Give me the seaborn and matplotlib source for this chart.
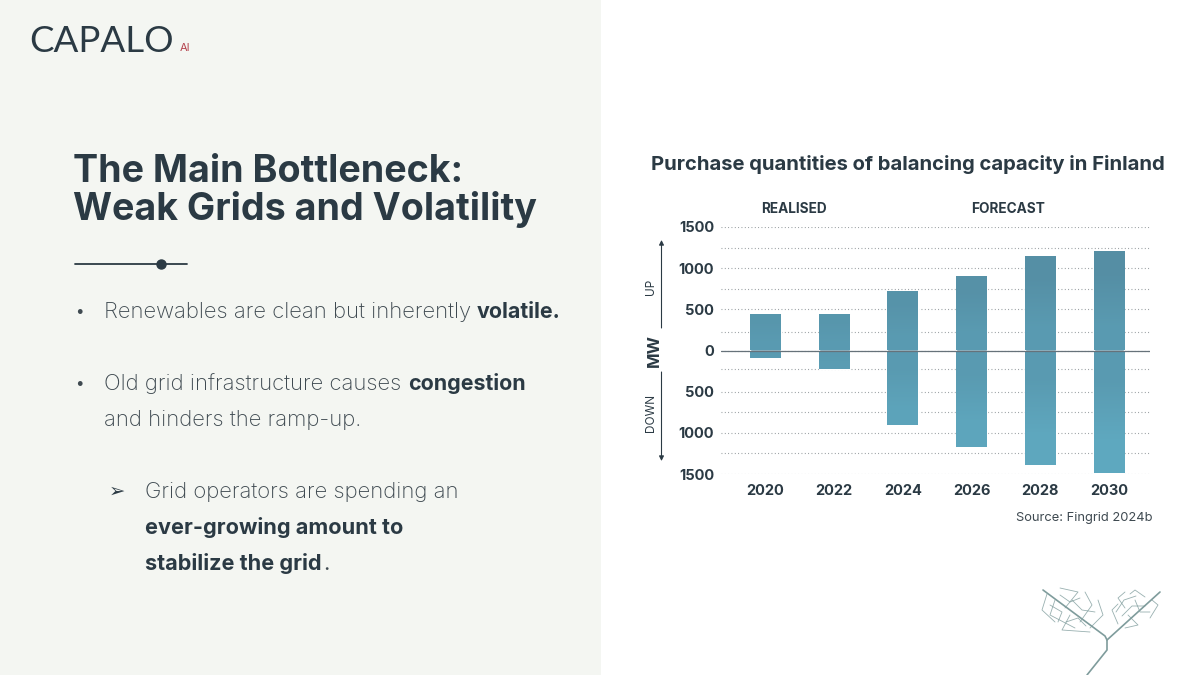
import numpy as np
import pandas as pd
import matplotlib
matplotlib.use("Agg")
import matplotlib.pyplot as plt
import seaborn as sns

years = ["2020", "2022", "2024", "2026", "2028", "2030"]
up_mw = [443, 443, 726, 905, 1148, 1209]
down_mw = [-95, -221, -905, -1172, -1390, -1488]
major_ticks = [1500, 1000, 500, 0, -500, -1000, -1500]
major_labels = ["1500", "1000", "500", "0", "500", "1000", "1500"]
minor_ticks = [1250, 750, 225, -225, -750, -1250]

DARK = "#2b3a44"
PANEL = "#f4f6f2"
W, H = 1200, 675

sns.set_theme(style="white")
plt.rcParams["font.family"] = ["Inter", "DejaVu Sans"]

fig = plt.figure(figsize=(12, 6.75), dpi=100, facecolor="white")

# page layer, coordinates are in pixels
page = fig.add_axes([0, 0, 1, 1])
page.set_xlim(0, W)
page.set_ylim(H, 0)
page.axis("off")
page.axvspan(0, 601, color=PANEL, lw=0)

# logo
page.text(29, 42, "CAPALO", fontsize=26.5, color=DARK, va="center", ha="left",
          fontweight="normal", family=["Lato", "DejaVu Sans"])
page.text(180, 48, "AI", fontsize=8, color="#b5444f", va="center", ha="left")

# headline
page.text(73, 172, "The Main Bottleneck:", fontsize=27.1, fontweight="bold", color=DARK, va="center")
page.text(73, 210, "Weak Grids and Volatility", fontsize=27.1, fontweight="bold", color=DARK, va="center")
page.plot([75, 187], [264, 264], color=DARK, lw=1.3)
page.plot([161], [264], "o", color=DARK, ms=6.5)

# body text
body = 15.9
strong = 15.4
grey = "#3f4a51"
page.text(79, 312, "•", fontsize=11, color=grey, ha="center", va="center")
page.text(104, 312, "Renewables are clean but inherently", fontsize=body, color=grey, va="center", fontweight="light")
page.text(477, 312, "volatile.", fontsize=strong, color=DARK, va="center", fontweight="bold")
page.text(79, 384, "•", fontsize=11, color=grey, ha="center", va="center")
page.text(104, 384, "Old grid infrastructure causes", fontsize=body, color=grey, va="center", fontweight="light")
page.text(408, 384, "congestion", fontsize=strong, color=DARK, va="center", fontweight="bold")
page.text(104, 420, "and hinders the ramp-up.", fontsize=body, color=grey, va="center", fontweight="light")
page.text(117, 491, "➢", fontsize=14, color=DARK, ha="center", va="center", family="DejaVu Sans")
page.text(145, 492, "Grid operators are spending an", fontsize=body, color=grey, va="center", fontweight="light")
page.text(145, 528, "ever-growing amount to", fontsize=15.6, color=DARK, va="center", fontweight="bold")
page.text(145, 564, "stabilize the grid", fontsize=15.6, color=DARK, va="center", fontweight="bold")
page.text(323, 564, ".", fontsize=body, color=grey, va="center")

# chart texts
page.text(908, 165, "Purchase quantities of balancing capacity in Finland", fontsize=14.55,
          fontweight="bold", color=DARK, ha="center", va="center")
page.text(794, 209, "REALISED", fontsize=9.8, fontweight="bold", color=DARK, ha="center", va="center")
page.text(1008, 209, "FORECAST", fontsize=9.8, fontweight="bold", color=DARK, ha="center", va="center")
page.text(1153, 518, "Source: Fingrid 2024b", fontsize=9.3, color=grey, ha="right", va="center")
page.text(654, 351, "MW", fontsize=12, fontweight="bold", color=DARK, rotation=90, ha="center", va="center")
page.text(651, 287, "UP", fontsize=8.5, color=DARK, rotation=90, ha="center", va="center")
page.text(651, 413, "DOWN", fontsize=8.5, color=DARK, rotation=90, ha="center", va="center")
arrow = dict(arrowstyle="-|>", color=DARK, lw=0.8, mutation_scale=7, shrinkA=0, shrinkB=0)
page.annotate("", xy=(661.5, 240), xytext=(661.5, 328), arrowprops=arrow)
page.annotate("", xy=(661.5, 461), xytext=(661.5, 372), arrowprops=arrow)

# leaf decoration
leaf = "#7f9c9c"
page.plot([1087, 1107, 1107, 1105, 1043], [675, 650, 640, 636, 590], color=leaf, lw=1.2)
page.plot([1107, 1160], [640, 592], color=leaf, lw=1.2)
for x0, y0, x1, y1, x2, y2 in [
    (1055, 600, 1050, 615, 1075, 628), (1070, 615, 1062, 630, 1090, 632),
    (1080, 622, 1092, 605, 1085, 592), (1065, 608, 1078, 592, 1060, 588),
    (1047, 594, 1042, 610, 1055, 622), (1090, 628, 1103, 615, 1098, 600),
    (1125, 608, 1118, 598, 1125, 592), (1135, 600, 1140, 612, 1150, 612),
    (1145, 597, 1135, 590, 1130, 594), (1118, 624, 1112, 610, 1118, 604),
    (1128, 615, 1138, 625, 1125, 628), (1152, 600, 1158, 605, 1150, 618),
    (1050, 605, 1062, 612, 1058, 622), (1072, 600, 1082, 610, 1095, 612),
    (1060, 595, 1070, 602, 1080, 598), (1066, 622, 1078, 618, 1086, 626),
    (1122, 616, 1132, 606, 1145, 606), (1116, 612, 1124, 600, 1136, 596),
]:
    page.plot([x0, x1, x2], [y0, y1, y2], color=leaf, lw=0.6, alpha=0.8)

# chart
ax = fig.add_axes([721 / W, 1 - 474 / H, (1150 - 721) / W, (474 - 227) / H])
ax.patch.set_alpha(0)

df = pd.DataFrame({"year": years * 2, "mw": up_mw + down_mw})
sns.barplot(data=df[df["mw"] > 0], x="year", y="mw", color="#558fa5", width=0.45,
            saturation=1, ax=ax, zorder=2)
sns.barplot(data=df[df["mw"] < 0], x="year", y="mw", color="#5fa8bf", width=0.45,
            saturation=1, ax=ax, zorder=2)

# vertical colour fade inside the bars
ramp = sns.blend_palette(["#548ca2", "#5fa9c0"], 64, as_cmap=True)
for bar in list(ax.patches):
    x0, x1 = bar.get_x(), bar.get_x() + bar.get_width()
    y0, y1 = sorted([bar.get_y(), bar.get_y() + bar.get_height()])
    shade = np.array([[(1500 - y0) / 3000], [(1500 - y1) / 3000]])
    im = ax.imshow(shade, extent=(x0, x1, y0, y1), origin="lower", aspect="auto",
                   cmap=ramp, vmin=0, vmax=1, zorder=2.5, interpolation="bilinear")
    im.set_clip_path(bar)
ax.set_xlim(-0.648, 5.597)
ax.set_ylim(-1500, 1500)

ax.set_yticks(major_ticks, labels=major_labels)
ax.set_yticks(minor_ticks, minor=True)
ax.grid(True, which="both", axis="y", color="#8d9497", lw=0.8, ls=(0, (0.8, 2.2)), zorder=0)
ax.set_axisbelow(True)
ax.axhline(0, color="#66727a", lw=0.9, zorder=3)
ax.set_xlabel("")
ax.set_ylabel("")
ax.tick_params(axis="both", which="both", length=0)
ax.tick_params(axis="y", pad=5, labelsize=10.5, labelcolor=DARK)
ax.tick_params(axis="x", pad=7, labelsize=10.5, labelcolor=DARK)
for lab in ax.get_xticklabels() + ax.get_yticklabels():
    lab.set_fontweight("bold")
sns.despine(ax=ax, left=True, bottom=True)

fig.savefig("out.png", dpi=100)
